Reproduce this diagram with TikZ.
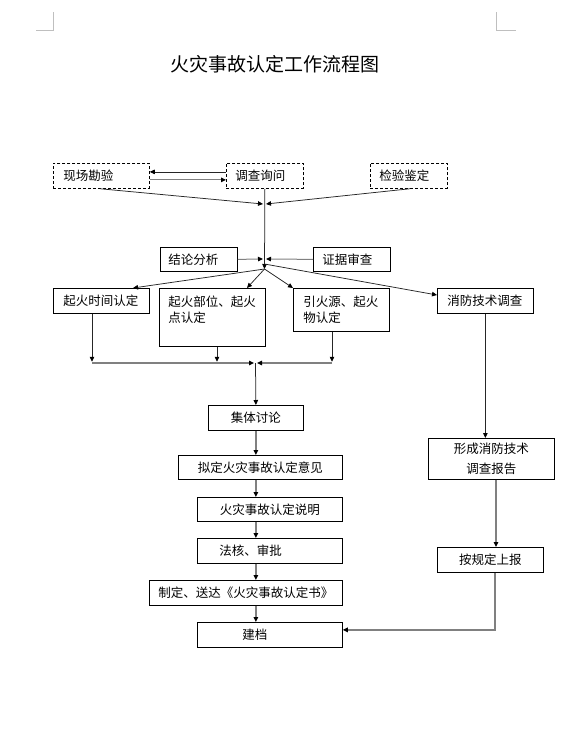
\documentclass[tikz,border=0pt]{standalone}
\usepackage{fontspec}
\usepackage{xcolor}
\usepackage{tikz}
\usetikzlibrary{arrows.meta,positioning,calc}
\newfontfamily\cjk{Noto Sans CJK SC}
\definecolor{fireline}{HTML}{262626}
\definecolor{firegray}{HTML}{808080}
\definecolor{firemark}{HTML}{BFBFBF}

\begin{document}
\begin{tikzpicture}[
  x=1pt, y=-1pt,
  every node/.style={font=\cjk\fontsize{12.5}{16}\selectfont},
  cell/.style={draw=black, line width=0.75pt, inner ysep=0pt, anchor=north west},
  dashcell/.style={cell, dash pattern=on 3pt off 2pt},
  lcell/.style={cell, align=left},
  ccell/.style={cell, align=center, inner xsep=0pt},
  arrow/.style={-{Triangle[length=5pt,width=4.5pt,color=black]}, line width=0.75pt, draw=fireline},
  grayarrow/.style={arrow, line width=1.3pt, draw=firegray}
]
\useasboundingbox (0,0) rectangle (583,742);
\fill[white] (0,0) rectangle (583,742);

% page corner marks
\draw[firemark, line width=0.8pt] (36,30) -- (53,30) -- (53,12);
\draw[firemark, line width=0.8pt] (496,12) -- (496,30) -- (516,30);

\node[font=\cjk\fontsize{19}{22}\selectfont] (title) at (275,64) {火灾事故认定工作流程图};

% evidence gathering
\node[dashcell, align=left, minimum width=96pt, minimum height=25pt, text width=76pt, inner xsep=10pt] (xckc) at (53,163) {现场勘验};
\node[dashcell, align=left, minimum width=77pt, minimum height=25pt, text width=59pt, inner xsep=9pt] (dcxw) at (226,163) {调查询问};
\node[dashcell, align=left, minimum width=77pt, minimum height=25pt, text width=59pt, inner xsep=9pt] (jyjd) at (370,163) {检验鉴定};
\node[lcell, minimum width=77pt, minimum height=24pt, text width=61pt, inner xsep=8pt] (jlfx) at (160,247) {结论分析};
\node[lcell, minimum width=77pt, minimum height=24pt, text width=59pt, inner xsep=9pt] (zjsc) at (313,247) {证据审查};

% determination items
\node[lcell, minimum width=96pt, minimum height=25pt, text width=76pt, inner xsep=10pt] (qhsj) at (53,288) {起火时间认定};
\node[lcell, minimum width=106pt, minimum height=58pt, text width=88pt, inner xsep=9pt] (qhbw) at (159,288) {起火部位、起火\\点认定\\\mbox{}};
\node[lcell, minimum width=96pt, minimum height=43pt, text width=76pt, inner xsep=10pt] (yhy) at (293,288) {引火源、起火\\物认定};
\node[lcell, minimum width=96pt, minimum height=25pt, text width=76pt, inner xsep=10pt] (xfjs) at (437,288) {消防技术调查};

% main chain
\node[ccell, minimum width=95pt, minimum height=25pt] (jttl) at (208,405) {集体讨论};
\node[ccell, minimum width=164pt, minimum height=24pt] (nd) at (178,455) {拟定火灾事故认定意见};
\node[ccell, minimum width=145pt, minimum height=24pt] (sm) at (197,497) {火灾事故认定说明};
\node[lcell, minimum width=145pt, minimum height=25pt, text width=101pt, inner xsep=22pt] (fh) at (197,538) {法核、审批};
\node[ccell, minimum width=193pt, minimum height=25pt] (zd) at (149,580) {制定、送达《火灾事故认定书》};
\node[lcell, minimum width=145pt, minimum height=25pt, text width=55pt, inner xsep=45pt] (jd) at (197,622) {建档};

% technical branch
\node[ccell, minimum width=126pt, minimum height=41pt, font=\cjk\fontsize{12.5}{20}\selectfont] (xcbg) at (428,438) {形成消防技术\\调查报告};
\node[ccell, minimum width=106pt, minimum height=25pt] (agd) at (437,547) {按规定上报};

\coordinate (mid1) at (264.5,204);
\coordinate (mid2) at (264.5,259);
\coordinate (hub) at (264.5,269);
\coordinate (hubx) at (264.5,264);
\coordinate (bus) at (255.5,363);
\coordinate (busl) at (92,363);
\coordinate (busr) at (332,363);

\draw[arrow] ([yshift=4pt]dcxw.west) -- ([yshift=4pt]xckc.east);
\draw[grayarrow, line width=1pt] ([yshift=-4pt]xckc.east) -- ([yshift=-4pt]dcxw.west);
\draw[arrow] ([xshift=47pt]xckc.south west) -- ([xshift=-1.5pt]mid1);
\draw[arrow] ([xshift=40pt]jyjd.south west) -- ([xshift=1.5pt]mid1);
\draw[arrow] (dcxw.south) -- (hub);
\draw[grayarrow, line width=1pt] (jlfx.east) -- ([xshift=-1.5pt]mid2);
\draw[grayarrow, line width=1pt] (zjsc.west) -- ([xshift=1.5pt]mid2);

\draw[arrow] (hub) -- ([xshift=80pt]qhsj.north west);
\draw[arrow] (hub) -- ([xshift=88pt]qhbw.north west);
\draw[arrow] (hub) -- (yhy.north west);
\draw[arrow] (hubx) -- ([yshift=-7pt]xfjs.north west);

\draw[arrow] ([xshift=39pt]qhsj.south west) -- ++(0,48);
\draw[arrow] ([xshift=58pt]qhbw.south west) -- ++(0,15);
\draw[arrow] ([xshift=39pt]yhy.south west) -- ++(0,30);
\draw[grayarrow] (busl) -- ([xshift=-1.5pt]bus);
\draw[grayarrow] (busr) -- ([xshift=1.5pt]bus);

\draw[arrow] (bus) -- (jttl.north);
\draw[grayarrow] (jttl.south) -- (jttl.south |- nd.north);
\draw[grayarrow] (jttl.south |- nd.south) -- (jttl.south |- sm.north);
\draw[grayarrow] (jttl.south |- sm.south) -- (jttl.south |- fh.north);
\draw[grayarrow] (jttl.south |- fh.south) -- (jttl.south |- zd.north);
\draw[grayarrow] (jttl.south |- zd.south) -- (jttl.south |- jd.north);

\draw[arrow] (xfjs.south) -- (xfjs.south |- xcbg.north);
\draw[grayarrow] ([xshift=68pt]xcbg.south west) -- ([xshift=68pt]xcbg.south west |- agd.north);
\draw[grayarrow] ([xshift=58pt]agd.south west) |- ([yshift=5pt]jd.east);
\end{tikzpicture}
\end{document}
